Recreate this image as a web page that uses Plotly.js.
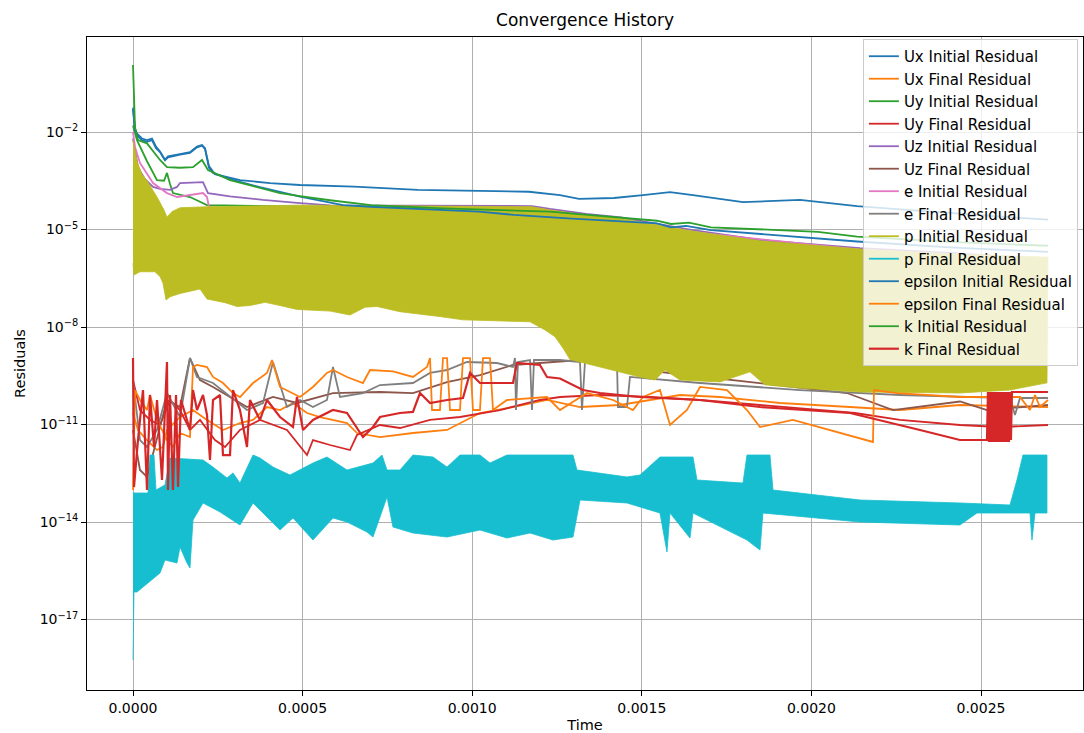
<!DOCTYPE html>
<html>
<head>
<meta charset="utf-8">
<script src="https://cdn.plot.ly/plotly-3.0.1.min.js"></script>
<style>html,body{margin:0;padding:0;background:#fff;}#chart{width:1084px;height:733px;}</style>
</head>
<body>
<div id="chart"></div>
<script>
// ---------- tick labels ----------
const xTickVals = [0, 0.0005, 0.0010, 0.0015, 0.0020, 0.0025];
const xTickText = ['0.0000', '0.0005', '0.0010', '0.0015', '0.0020', '0.0025'];
const yTickVals = [1e-2, 1e-5, 1e-8, 1e-11, 1e-14, 1e-17];
const yTickText = ['10<sup>\u22122</sup>', '10<sup>\u22125</sup>', '10<sup>\u22128</sup>', '10<sup>\u221211</sup>', '10<sup>\u221214</sup>', '10<sup>\u221217</sup>'];

// ---------- series names ----------
const seriesNames = ['Ux Initial Residual', 'Ux Final Residual', 'Uy Initial Residual', 'Uy Final Residual',
  'Uz Initial Residual', 'Uz Final Residual', 'e Initial Residual', 'e Final Residual',
  'p Initial Residual', 'p Final Residual', 'epsilon Initial Residual', 'epsilon Final Residual',
  'k Initial Residual', 'k Final Residual'];

// ---------- Ux ----------
const uxInitT = [0,5.9e-6,1.18e-5,2.65e-5,4.13e-5,5.6e-5,6.78e-5,7.96e-5,9.43e-5,1.032e-4,1.386e-4,1.68e-4,1.887e-4,2.034e-4,2.123e-4,2.24e-4,2.417e-4,3.154e-4,4.039e-4,4.923e-4,6.515e-4,8.402e-4,1.1674e-3,1.2588e-3,1.3148e-3,1.418e-3,1.5035e-3,1.5831e-3,1.6509e-3,1.7983e-3,1.9663e-3,2.1344e-3,2.2611e-3,2.4085e-3,2.5559e-3,2.6974e-3];
const uxInitV = [5.62e-2,1.26e-2,8.91e-3,6.31e-3,5.62e-3,6.31e-3,3.55e-3,2.51e-3,1.41e-3,1.78e-3,2.09e-3,2.4e-3,3.55e-3,3.98e-3,3.16e-3,8.91e-4,5.01e-4,3.31e-4,2.69e-4,2.34e-4,2.09e-4,1.66e-4,1.45e-4,1.15e-4,8.71e-5,9.33e-5,1.15e-4,1.41e-4,1.15e-4,6.92e-5,8.13e-5,5.25e-5,4.17e-5,3.16e-5,2.51e-5,2.0e-5];
const uxFinalT = [0,1.47e-5,4.13e-5,7.08e-5,8.84e-5,1.002e-4,1.386e-4,1.769e-4,2.182e-4,2.653e-4,3.154e-4,3.538e-4,3.95e-4,4.334e-4,4.717e-4,5.13e-4,5.513e-4,6.309e-4,6.604e-4,7.282e-4,8.254e-4,9.257e-4,1.0229e-3,1.1202e-3,1.2205e-3,1.3178e-3,1.4357e-3,1.6126e-3,1.7305e-3,1.9074e-3,2.1137e-3,2.2611e-3,2.438e-3,2.6974e-3];
const uxFinalV = [2.26e-11,6.78e-12,3.33e-12,1.64e-12,2.03e-12,6.78e-12,1.7e-11,2.79e-11,1.38e-11,6.78e-12,1.11e-11,1.38e-11,3.45e-11,2.79e-11,4.59e-11,2.26e-11,1.7e-11,1.11e-11,5.47e-12,4.12e-12,5.47e-12,6.78e-12,2.26e-11,3.45e-11,5.68e-11,3.45e-11,3.98e-11,8.09e-11,7.02e-11,4.59e-11,3.45e-11,2.79e-11,3.98e-11,3.45e-11];

// ---------- Uy ----------
const uyInitT = [0,1.18e-5,4.13e-5,7.08e-5,9.14e-5,1.002e-4,1.091e-4,1.179e-4,1.68e-4,2.182e-4,4.923e-4,1.1763e-3,1.3354e-3,1.6509e-3,2.1432e-3,2.6974e-3];
const uyInitV = [1.58e-2,5.62e-3,1.26e-3,3.31e-4,3.16e-4,5.5e-4,2.51e-4,1.32e-4,1.0e-4,5.62e-5,5.01e-5,4.47e-5,2.51e-5,7.94e-6,2.24e-6,1.26e-6];
const uyFinalT = [0,2.06e-5,5.01e-5,7.96e-5,1.091e-4,1.386e-4,1.68e-4,1.975e-4,2.417e-4,2.712e-4,3.154e-4,3.744e-4,4.54e-4,4.923e-4,5.13e-4,5.306e-4,5.808e-4,6.397e-4,6.604e-4,7.282e-4,7.871e-4,8.756e-4,9.64e-4,1.0819e-3,1.1998e-3,1.2588e-3,1.3767e-3,1.5241e-3,1.6715e-3,1.8484e-3,2.1285e-3,2.2611e-3,2.438e-3,2.5559e-3,2.6974e-3];
const uyFinalV = [2.34e-10,2.79e-11,1.38e-11,9.66e-12,5.68e-11,2.79e-11,6.78e-12,1.38e-11,3.33e-12,2.03e-12,6.78e-12,1.38e-11,6.78e-12,2.03e-12,1.15e-12,3.33e-12,2.34e-12,1.64e-12,4.75e-12,9.66e-12,7.8e-12,1.38e-11,1.7e-11,2.79e-11,5.68e-11,7.02e-11,8.09e-11,7.02e-11,5.68e-11,3.98e-11,2.26e-11,1.38e-11,9.66e-12,8.38e-12,9.66e-12];

// ---------- Uz ----------
const uzInitT = [0,1.47e-5,3.54e-5,5.9e-5,7.96e-5,1.091e-4,1.297e-4,1.386e-4,2.064e-4,2.211e-4,2.86e-4,3.832e-4,4.835e-4,5.808e-4,1.1763e-3,1.2293e-3,1.3354e-3,1.4386e-3,1.6509e-3,1.8484e-3,2.1432e-3,2.4085e-3,2.6974e-3];
const uzInitV = [6.31e-3,7.94e-4,3.55e-4,2.04e-4,1.78e-4,1.66e-4,2.04e-4,2.69e-4,2.88e-4,1.32e-4,1.05e-4,8.13e-5,6.61e-5,5.5e-5,5.25e-5,4.27e-5,3.02e-5,2.34e-5,9.55e-6,4.79e-6,2.69e-6,1.91e-6,1.2e-6];
const uzFinalT = [0,2.06e-5,4.13e-5,7.08e-5,1.002e-4,1.386e-4,1.68e-4,1.975e-4,2.358e-4,3.361e-4,4.127e-4,4.835e-4,5.896e-4,7.282e-4,8.254e-4,9.257e-4,1.0229e-3,1.1202e-3,1.3178e-3,1.5035e-3,2.1048e-3,2.2404e-3,2.438e-3,2.5176e-3,2.6974e-3];
const uzFinalV = [6.78e-12,3.98e-13,2.43e-13,4.12e-12,5.68e-11,3.45e-11,1.11e-9,2.34e-10,1.43e-10,3.45e-11,7.02e-11,4.59e-11,9.3e-11,1.0e-10,9.3e-11,2.0e-10,3.33e-10,6.78e-10,9.66e-10,4.75e-10,9.3e-11,2.79e-11,5.1e-11,2.79e-11,3.98e-11];

// ---------- e ----------
const eInitT = [0,5.9e-6,2.06e-5,5.9e-5,1.002e-4,1.297e-4,2.064e-4,2.182e-4,2.24e-4,2.565e-4,5.808e-4,1.1763e-3,1.3354e-3,1.6509e-3,2.1432e-3,2.6974e-3];
const eInitV = [1.0e-2,3.47e-3,1.12e-3,2.69e-4,1.32e-4,1.0e-4,1.32e-4,1.0e-4,4.9e-5,4.47e-5,4.79e-5,4.68e-5,2.63e-5,8.32e-6,2.4e-6,1.07e-6];
const eFinalT = [0,2.06e-5,4.13e-5,7.08e-5,1.002e-4,1.386e-4,1.68e-4,1.887e-4,2.358e-4,2.86e-4,3.361e-4,3.832e-4,4.127e-4,4.54e-4,4.923e-4,5.306e-4,5.719e-4,5.896e-4,6.102e-4,6.78e-4,7.282e-4,8.254e-4,8.756e-4,9.257e-4,9.846e-4,1.0731e-3,1.1202e-3,1.1261e-3,1.1291e-3,1.135e-3,1.1704e-3,1.1763e-3,1.1822e-3,1.2588e-3,1.3178e-3,1.3237e-3,1.3325e-3,1.4268e-3,1.4298e-3,1.4563e-3,1.4651e-3,1.6715e-3,1.9663e-3,2.2611e-3,2.5854e-3,2.6001e-3,2.6149e-3,2.6974e-3];
const eFinalV = [2.34e-10,3.33e-12,2.03e-12,6.78e-12,9.3e-11,1.7e-11,1.11e-9,2.9e-10,1.89e-10,7.02e-11,2.79e-11,4.59e-11,8.38e-10,3.45e-11,5.68e-11,3.45e-11,5.68e-11,5.88e-10,7.02e-11,9.3e-11,1.64e-10,1.89e-10,3.85e-10,4.75e-10,8.38e-10,7.8e-10,5.88e-10,1.11e-9,2.79e-11,8.38e-10,9.66e-10,2.79e-11,9.66e-10,9.66e-10,8.38e-10,2.79e-11,8.38e-10,8.38e-10,3.45e-11,3.45e-11,2.9e-10,1.89e-10,1.15e-10,8.09e-11,6.53e-11,1.96e-11,6.53e-11,6.53e-11];

// ---------- p (oscillating bands: upper and lower envelopes) ----------
const pInitTopT = [0,1.18e-5,2.65e-5,4.13e-5,7.08e-5,9.14e-5,1.002e-4,1.15e-4,1.386e-4,2.182e-4,4.923e-4,1.1763e-3,1.2293e-3,1.3354e-3,1.4386e-3,1.6509e-3,1.8484e-3,2.1432e-3,2.4085e-3,2.6974e-3];
const pInitTopV = [5.62e-3,1.26e-3,5.01e-4,3.16e-4,1.0e-4,3.98e-5,2.4e-5,3.55e-5,4.68e-5,5.01e-5,5.62e-5,5.01e-5,3.98e-5,2.82e-5,2.19e-5,8.91e-6,4.47e-6,2.51e-6,1.78e-6,1.41e-6];
const pInitBotT = [0,2.9e-6,2.06e-5,6.49e-5,7.96e-5,8.84e-5,9.73e-5,1.091e-4,1.386e-4,1.828e-4,1.975e-4,2.182e-4,2.712e-4,3.066e-4,3.449e-4,3.891e-4,4.334e-4,4.835e-4,5.808e-4,6.397e-4,6.839e-4,7.193e-4,7.871e-4,9.05e-4,9.728e-4,1.1704e-3,1.2146e-3,1.2441e-3,1.2676e-3,1.2883e-3,1.3767e-3,1.4946e-3,1.5389e-3,1.5683e-3,1.6126e-3,1.7305e-3,1.8189e-3,1.8631e-3,1.9663e-3,2.1432e-3,2.438e-3,2.5854e-3,2.6945e-3];
const pInitBotV = [9.33e-7,3.98e-7,5.01e-7,5.01e-7,3.55e-7,2.24e-7,6.76e-8,8.51e-8,1.07e-7,1.38e-7,1.48e-7,7.24e-8,5.62e-8,4.27e-8,4.57e-8,5.75e-8,4.57e-8,3.47e-8,3.09e-8,2.34e-8,4.07e-8,4.27e-8,2.95e-8,2.09e-8,1.66e-8,1.45e-8,8.13e-9,5.01e-9,2.24e-9,1.0e-9,5.89e-10,2.88e-10,2.34e-10,4.79e-10,2.34e-10,2.04e-10,4.17e-10,1.66e-10,1.32e-10,1.0e-10,9.33e-11,1.15e-10,1.91e-10];
const pFinalTopT = [0,4.42e-5,5.01e-5,6.19e-5,6.78e-5,9.43e-5,1.091e-4,2.064e-4,2.358e-4,2.771e-4,2.948e-4,3.154e-4,3.538e-4,3.744e-4,4.127e-4,4.628e-4,5.306e-4,5.719e-4,6.309e-4,7.075e-4,7.341e-4,7.488e-4,7.871e-4,8.254e-4,8.844e-4,9.257e-4,9.64e-4,1.0229e-3,1.0524e-3,1.1026e-3,1.2971e-3,1.3089e-3,1.4563e-3,1.4946e-3,1.5536e-3,1.6509e-3,1.6627e-3,1.7983e-3,1.8101e-3,1.8779e-3,1.8867e-3,2.1432e-3,2.438e-3,2.5854e-3,2.606e-3,2.6237e-3,2.6945e-3];
const pFinalTopV = [7.8e-14,7.8e-14,1.15e-12,1.15e-12,9.66e-14,1.38e-13,9.33e-13,8.09e-13,4.9e-13,2.26e-13,3.24e-13,1.58e-13,1.15e-12,9.33e-13,4.9e-13,2.79e-13,6.53e-13,1.0e-12,3.98e-13,6.53e-13,1.15e-12,3.98e-13,3.98e-13,1.15e-12,1.0e-12,4.9e-13,1.15e-12,1.15e-12,6.53e-13,1.15e-12,1.15e-12,3.98e-13,2.43e-13,2.79e-13,1.0e-12,1.0e-12,1.96e-13,1.58e-13,1.15e-12,1.15e-12,9.66e-14,4.75e-14,3.85e-14,3.33e-14,1.96e-13,1.15e-12,1.15e-12];
const pFinalBotT = [0,2.9e-6,1.18e-5,7.96e-5,9.43e-5,1.297e-4,1.386e-4,1.592e-4,1.68e-4,1.769e-4,2.064e-4,2.565e-4,3.154e-4,3.538e-4,3.95e-4,4.334e-4,4.717e-4,5.306e-4,5.896e-4,6.309e-4,6.898e-4,7.075e-4,7.488e-4,7.665e-4,8.254e-4,9.257e-4,1.0229e-3,1.1026e-3,1.1704e-3,1.2382e-3,1.2971e-3,1.3178e-3,1.4563e-3,1.5536e-3,1.5742e-3,1.5831e-3,1.642e-3,1.6509e-3,1.8101e-3,1.8484e-3,1.8572e-3,2.1432e-3,2.438e-3,2.4881e-3,2.6444e-3,2.6503e-3,2.6591e-3,2.6945e-3];
const pFinalBotV = [5.68e-19,7.02e-17,7.02e-17,2.7e-16,6.78e-16,5.47e-16,1.7e-15,5.47e-16,3.85e-16,1.15e-14,3.85e-14,2.04e-14,8.09e-15,3.85e-14,1.43e-14,5.68e-15,1.33e-14,2.79e-15,1.33e-14,1.0e-14,4.92e-15,3.45e-15,5.88e-14,7.02e-15,4.59e-15,3.45e-15,5.68e-15,3.22e-15,4.59e-15,2.79e-15,3.45e-15,4.75e-14,3.85e-14,1.89e-14,1.19e-15,1.89e-14,3.22e-15,1.89e-14,2.79e-15,1.38e-15,1.89e-14,1.0e-14,8.09e-15,1.89e-14,1.89e-14,2.79e-15,1.89e-14,1.89e-14];

// ---------- epsilon ----------
const epsInitT = [0,5.9e-6,1.18e-5,2.65e-5,4.13e-5,5.6e-5,6.78e-5,7.96e-5,9.43e-5,1.032e-4,1.386e-4,1.68e-4,1.887e-4,2.034e-4,2.123e-4,2.24e-4,2.358e-4,2.86e-4,3.744e-4,4.923e-4,6.191e-4,7.016e-4,1.02e-3,1.1232e-3,1.2824e-3,1.5448e-3,1.586e-3,1.6302e-3,1.7039e-3,2.0194e-3,2.1344e-3,2.4085e-3,2.6974e-3];
const epsInitV = [5.01e-2,1.12e-2,7.94e-3,5.62e-3,5.01e-3,5.62e-3,3.16e-3,2.4e-3,1.35e-3,1.66e-3,2.0e-3,2.29e-3,3.39e-3,3.8e-3,3.02e-3,7.94e-4,5.5e-4,3.55e-4,2.0e-4,1.02e-4,5.62e-5,5.01e-5,3.55e-5,2.82e-5,2.19e-5,1.55e-5,1.17e-5,1.29e-5,9.55e-6,5.37e-6,4.27e-6,2.82e-6,2.04e-6];
const epsFinalT = [0,5.9e-6,2.06e-5,4.13e-5,5.01e-5,7.08e-5,1.002e-4,1.179e-4,1.386e-4,1.68e-4,1.769e-4,1.887e-4,2.182e-4,2.358e-4,2.653e-4,2.948e-4,3.154e-4,3.538e-4,3.95e-4,4.098e-4,4.334e-4,4.923e-4,5.306e-4,5.719e-4,5.896e-4,6.309e-4,6.78e-4,6.987e-4,7.665e-4,8.254e-4,8.667e-4,8.756e-4,8.815e-4,9.05e-4,9.139e-4,9.257e-4,9.345e-4,9.64e-4,9.728e-4,9.935e-4,1.0023e-3,1.0229e-3,1.0318e-3,1.0524e-3,1.0613e-3,1.1026e-3,1.2205e-3,1.2588e-3,1.3384e-3,1.415e-3,1.474e-3,1.5035e-3,1.5536e-3,1.5831e-3,1.6332e-3,1.6715e-3,1.7511e-3,1.8101e-3,1.8484e-3,1.9457e-3,2.1815e-3,2.1845e-3,2.2523e-3,2.438e-3,2.6149e-3,2.6444e-3,2.6591e-3,2.6738e-3,2.6974e-3];
const epsFinalV = [9.66e-14,1.15e-10,5.68e-11,2.79e-11,8.09e-11,1.38e-11,3.33e-12,2.03e-12,5.47e-12,4.12e-12,5.88e-10,6.78e-10,5.88e-10,2.9e-10,1.89e-10,9.3e-11,7.02e-11,1.89e-10,3.85e-10,9.66e-10,1.43e-10,7.02e-11,1.43e-10,3.85e-10,4.75e-10,2.9e-10,1.89e-10,4.75e-10,4.3e-10,2.9e-10,5.88e-10,1.11e-9,2.79e-11,2.79e-11,1.11e-9,1.11e-9,2.79e-11,2.79e-11,1.11e-9,1.11e-9,2.79e-11,2.79e-11,1.11e-9,1.11e-9,2.79e-11,5.68e-11,7.02e-11,2.79e-11,9.3e-11,5.68e-11,2.79e-11,7.02e-11,1.15e-10,9.66e-12,2.79e-11,1.43e-10,1.15e-10,2.79e-11,8.38e-12,1.38e-11,2.9e-12,1.15e-10,9.3e-11,7.02e-11,7.02e-11,2.79e-11,8.09e-11,3.45e-11,5.68e-11];

// ---------- k ----------
const kInitT = [0,5.9e-6,1.47e-5,4.13e-5,7.96e-5,1.002e-4,1.386e-4,1.769e-4,2.034e-4,2.211e-4,2.86e-4,4.334e-4,4.923e-4,5.808e-4,7.016e-4,9.139e-4,1.2293e-3,1.4386e-3,1.5448e-3,1.586e-3,1.6391e-3,1.7039e-3,2.0194e-3,2.1344e-3,2.4085e-3,2.6974e-3];
const kInitV = [1.15,1.41e-2,5.62e-3,4.47e-3,1.38e-3,8.32e-4,7.94e-4,8.32e-4,1.38e-3,6.76e-4,3.31e-4,1.32e-4,1.07e-4,7.94e-5,5.62e-5,4.47e-5,3.55e-5,2.34e-5,1.86e-5,1.48e-5,1.62e-5,1.17e-5,8.51e-6,6.03e-6,4.17e-6,3.16e-6];
const kFinalT = [0,2.9e-6,1.47e-5,2.95e-5,4.13e-5,5.01e-5,6.19e-5,7.08e-5,8.55e-5,1.002e-4,1.032e-4,1.091e-4,1.179e-4,1.268e-4,1.327e-4,1.415e-4,1.68e-4,1.769e-4,1.887e-4,2.064e-4,2.182e-4,2.27e-4,2.358e-4,2.565e-4,2.653e-4,2.86e-4,2.948e-4,3.154e-4,3.361e-4,3.449e-4,3.744e-4,3.95e-4,4.334e-4,4.717e-4,4.835e-4,5.012e-4,5.306e-4,5.896e-4,6.309e-4,6.78e-4,7.075e-4,7.282e-4,7.871e-4,8.254e-4,8.461e-4,8.756e-4,9.257e-4,9.728e-4,9.935e-4,1.0229e-3,1.1202e-3,1.132e-3,1.1998e-3,1.2205e-3,1.2588e-3,1.3266e-3,1.3767e-3,1.4946e-3,1.6715e-3,1.8484e-3,2.1137e-3,2.2022e-3,2.3201e-3,2.438e-3,2.5176e-3,2.5205e-3,2.5235e-3,2.5264e-3,2.5294e-3,2.5323e-3,2.5353e-3,2.5382e-3,2.5412e-3,2.5441e-3,2.5471e-3,2.55e-3,2.553e-3,2.5559e-3,2.5589e-3,2.5618e-3,2.5648e-3,2.5677e-3,2.5707e-3,2.5736e-3,2.5766e-3,2.5795e-3,2.5824e-3,2.5854e-3,2.5883e-3,2.5913e-3,2.5942e-3,2.6974e-3];
const kFinalV = [1.11e-9,1.19e-13,3.33e-12,1.15e-10,9.66e-14,8.09e-11,2.03e-12,5.68e-11,1.96e-13,8.38e-10,9.66e-14,8.09e-11,9.66e-14,8.09e-11,1.19e-13,5.68e-11,6.78e-12,1.15e-10,2.79e-11,8.09e-11,1.96e-11,8.09e-13,5.68e-11,8.09e-11,1.15e-12,1.15e-12,1.15e-10,2.79e-11,2.03e-12,5.68e-11,1.38e-11,5.68e-11,1.7e-11,8.38e-12,7.02e-11,6.78e-12,1.38e-11,2.79e-11,2.26e-11,4.12e-12,8.38e-12,1.7e-11,2.26e-11,2.43e-11,9.3e-11,4.59e-11,5.68e-11,6.53e-11,3.85e-10,1.89e-10,1.89e-10,7.8e-10,6.78e-10,2.9e-10,2.6e-10,1.15e-10,9.3e-11,7.02e-11,5.68e-11,3.45e-11,2.26e-11,1.38e-11,6.78e-12,3.33e-12,3.33e-12,1.0e-10,2.9e-12,1.0e-10,2.9e-12,1.0e-10,2.9e-12,1.0e-10,2.9e-12,1.0e-10,2.9e-12,1.0e-10,2.9e-12,1.0e-10,2.9e-12,1.0e-10,2.9e-12,1.0e-10,2.9e-12,1.0e-10,2.9e-12,1.0e-10,2.9e-12,1.0e-10,3.33e-12,1.0e-10,1.0e-10,1.0e-10];

// ---------- colours (matplotlib tab10 cycle) ----------
const C = {blue:'#1f77b4', orange:'#ff7f0e', green:'#2ca02c', red:'#d62728', purple:'#9467bd',
  brown:'#8c564b', pink:'#e377c2', gray:'#7f7f7f', olive:'#bcbd22', cyan:'#17becf'};

function line(name, x, y, color, width) {
  return {type:'scatter', mode:'lines', name:name, x:x, y:y,
    line:{color:color, width:width || 1.8}, hoverinfo:'skip'};
}
function band(topT, topV, botT, botV, color) {
  const x = topT.concat(botT.slice().reverse());
  const y = topV.concat(botV.slice().reverse());
  return {type:'scatter', mode:'lines', x:x, y:y, fill:'toself', fillcolor:color,
    line:{color:color, width:0.8}, showlegend:false, hoverinfo:'skip'};
}
function legendOnly(name, color) {
  return {type:'scatter', mode:'lines', name:name, x:[null], y:[null],
    line:{color:color, width:1.8}, hoverinfo:'skip'};
}

const traces = [
  line(seriesNames[0], uxInitT, uxInitV, C.blue),
  line(seriesNames[1], uxFinalT, uxFinalV, C.orange),
  line(seriesNames[2], uyInitT, uyInitV, C.green),
  line(seriesNames[3], uyFinalT, uyFinalV, C.red),
  line(seriesNames[4], uzInitT, uzInitV, C.purple),
  line(seriesNames[5], uzFinalT, uzFinalV, C.brown),
  line(seriesNames[6], eInitT, eInitV, C.pink),
  line(seriesNames[7], eFinalT, eFinalV, C.gray),
  band(pInitTopT, pInitTopV, pInitBotT, pInitBotV, C.olive),
  legendOnly(seriesNames[8], C.olive),
  band(pFinalTopT, pFinalTopV, pFinalBotT, pFinalBotV, C.cyan),
  legendOnly(seriesNames[9], C.cyan),
  line(seriesNames[10], epsInitT, epsInitV, C.blue),
  line(seriesNames[11], epsFinalT, epsFinalV, C.orange),
  line(seriesNames[12], kInitT, kInitV, C.green),
  line(seriesNames[13], kFinalT, kFinalV, C.red, 2.2)
];

const FONT = 'DejaVu Sans, Liberation Sans, sans-serif';
const layout = {
  width:1084, height:733,
  margin:{l:87, r:1, t:37, b:43, pad:0},
  paper_bgcolor:'#ffffff', plot_bgcolor:'#ffffff',
  font:{family:FONT, size:14, color:'#000000'},
  title:{text:'Convergence History', font:{family:FONT, size:17, color:'#000000'},
    x:0.5, xref:'paper', xanchor:'center', y:1 - 20/733, yref:'container', yanchor:'middle'},
  xaxis:{range:[-1.356e-4, 2.8007e-3], tickmode:'array', tickvals:xTickVals, ticktext:xTickText,
    ticks:'outside', ticklen:5, tickwidth:1, tickcolor:'#000000',
    showline:true, mirror:true, linecolor:'#000000', linewidth:1,
    showgrid:true, gridcolor:'#b0b0b0', gridwidth:1, zeroline:false, automargin:false,
    tickfont:{family:FONT, size:14, color:'#000000'},
    title:{text:'Time', font:{family:FONT, size:14.5, color:'#000000'}, standoff:6}},
  yaxis:{type:'log', range:[-19.169, 0.923], tickmode:'array', tickvals:yTickVals, ticktext:yTickText,
    ticks:'outside', ticklen:5, tickwidth:1, tickcolor:'#000000',
    showline:true, mirror:true, linecolor:'#000000', linewidth:1,
    showgrid:true, gridcolor:'#b0b0b0', gridwidth:1, zeroline:false, automargin:false,
    tickfont:{family:FONT, size:14, color:'#000000'},
    title:{text:'Residuals', font:{family:FONT, size:14.5, color:'#000000'}, standoff:10}},
  showlegend:true,
  legend:{x:0.779, y:0.997, xanchor:'left', yanchor:'top', bgcolor:'rgba(255,255,255,0.8)',
    bordercolor:'#cccccc', borderwidth:1, font:{family:FONT, size:15, color:'#000000'},
    tracegroupgap:0, traceorder:'normal'}
};

Plotly.newPlot('chart', traces, layout, {displayModeBar:false, staticPlot:true});
</script>
</body>
</html>
